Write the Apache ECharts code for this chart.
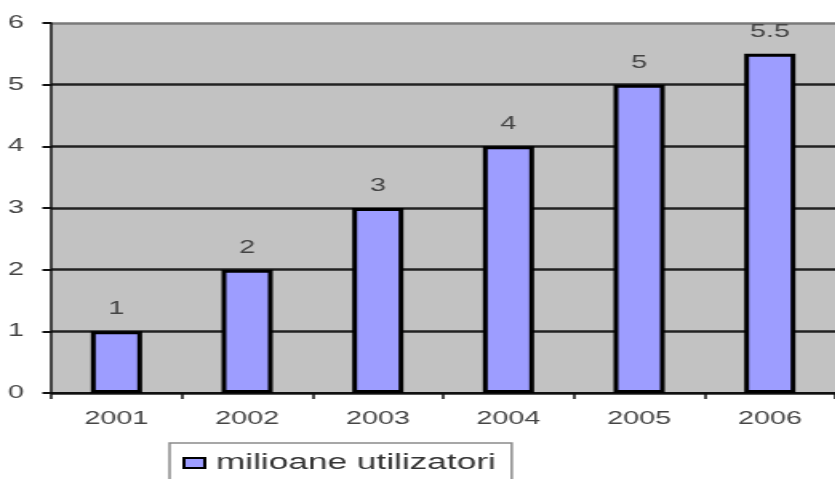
<!DOCTYPE html>
<html>
<head>
<meta charset="utf-8">
<script src="https://cdn.jsdelivr.net/npm/echarts@6/dist/echarts.min.js"></script>
<style>
  html, body { margin: 0; padding: 0; background: #ffffff; overflow: hidden; }
  /* the chart is laid out narrow and stretched sideways, giving its wide lettering */
  #chart { width: 521.875px; height: 479px; transform: scaleX(1.6); transform-origin: 0 0; }
</style>
</head>
<body>
<div id="chart"></div>
<script>
// Internet users in Romania (millions), by year
const years = ['2001', '2002', '2003', '2004', '2005', '2006'];
const users = [1, 2, 3, 4, 5, 5.5];
const seriesName = 'milioane utilizatori';
const yTicks = { min: 0, max: 6, interval: 1 };

const font = 'Liberation Sans, Arial, sans-serif';
const chart = echarts.init(document.getElementById('chart'));
chart.setOption({
  animation: false,
  textStyle: { fontFamily: font },
  grid: {
    left: 32, top: 23, right: -5, bottom: 86,
    show: true, backgroundColor: '#c2c2c2', borderWidth: 0
  },
  legend: {
    data: [seriesName],
    left: 106, top: 443,
    padding: [9, 10, 20, 8],
    borderColor: '#8a8a8a', borderWidth: 1.5, borderRadius: 0,
    itemWidth: 13, itemHeight: 10, itemGap: 8,
    icon: 'rect',
    itemStyle: { color: '#9d9dff', borderColor: '#000', borderWidth: 2 },
    textStyle: { fontSize: 22, color: '#333', fontFamily: font, padding: [0, 0, 0, 2] }
  },
  xAxis: {
    type: 'category',
    data: years,
    axisLine: { lineStyle: { color: '#111', width: 2 } },
    axisTick: { show: true, length: 6, lineStyle: { color: '#111', width: 1.5 } },
    axisLabel: { fontSize: 18, color: '#444', margin: 17 }
  },
  yAxis: {
    type: 'value',
    min: yTicks.min, max: yTicks.max, interval: yTicks.interval,
    axisLine: { show: true, lineStyle: { color: '#111', width: 1.5 } },
    axisTick: { show: true, length: 5.5, lineStyle: { color: '#111', width: 2 } },
    axisLabel: { fontSize: 18, color: '#444', margin: 17 },
    splitLine: {
      show: true,
      lineStyle: { color: ['#222', '#222', '#222', '#222', '#222', '#222', '#7a7a7a'], width: 2.5 }
    }
  },
  series: [{
    name: seriesName,
    type: 'bar',
    data: users,
    barWidth: 32,
    itemStyle: { color: '#9d9dff', borderColor: '#000', borderWidth: 3 },
    label: {
      show: true, position: 'top', distance: 13,
      fontSize: 18, color: '#444'
    }
  }]
});
</script>
</body>
</html>
